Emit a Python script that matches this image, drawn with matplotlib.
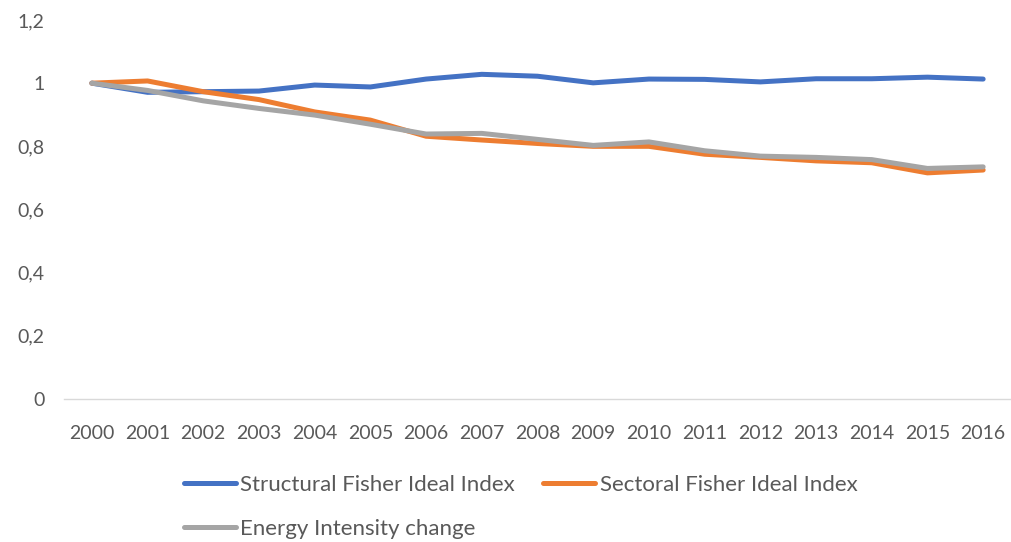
import matplotlib.pyplot as plt
from matplotlib.ticker import FuncFormatter

years = [str(y) for y in range(2000, 2017)]
structural = [1.000, 0.971, 0.973, 0.975, 0.994, 0.988, 1.013, 1.028, 1.022,
              1.001, 1.013, 1.012, 1.004, 1.014, 1.014, 1.019, 1.013]
sectoral = [1.000, 1.007, 0.973, 0.948, 0.909, 0.883, 0.832, 0.820, 0.809,
            0.800, 0.800, 0.775, 0.765, 0.754, 0.748, 0.716, 0.725]
intensity = [1.000, 0.977, 0.944, 0.920, 0.899, 0.870, 0.839, 0.841, 0.822,
             0.803, 0.814, 0.786, 0.769, 0.765, 0.758, 0.730, 0.735]

plt.rcParams['font.family'] = ['Lato', 'DejaVu Sans']

fig = plt.figure(figsize=(10.11, 5.42), dpi=100)
ax = fig.add_axes([64 / 1011, 1 - 399 / 542, 947 / 1011, 379 / 542])

x = range(len(years))
style = dict(lw=3.6, solid_capstyle='round', solid_joinstyle='round')
l1, = ax.plot(x, structural, color='#4472C4', label='Structural Fisher Ideal Index', **style)
l2, = ax.plot(x, sectoral, color='#ED7D31', label='Sectoral Fisher Ideal Index', **style)
l3, = ax.plot(x, intensity, color='#A5A5A5', label='Energy Intensity change', **style)

ax.set_xlim(-0.5, len(years) - 0.5)
ax.set_ylim(0, 1.2)
ax.set_yticks([0, 0.2, 0.4, 0.6, 0.8, 1.0, 1.2])
ax.yaxis.set_major_formatter(FuncFormatter(lambda v, p: f'{v:g}'.replace('.', ',')))
ax.set_xticks(list(x))
ax.set_xticklabels(years)

for s in ['top', 'right', 'left']:
    ax.spines[s].set_visible(False)
ax.spines['bottom'].set_color('#D9D9D9')
ax.spines['bottom'].set_linewidth(1.0)
ax.tick_params(axis='both', length=0, labelsize=14, colors='#595959')
ax.tick_params(axis='y', pad=14)
ax.tick_params(axis='x', pad=19)

# row-wise order: legend fills columns first
fig.legend([l1, l3, l2], [l1.get_label(), l3.get_label(), l2.get_label()],
           loc='upper left', bbox_to_anchor=(177 / 1011, 1 - 468 / 542), ncol=2,
           frameon=False, fontsize=16, handlelength=2.35, handletextpad=0.2,
           columnspacing=1.25, labelspacing=1.1, labelcolor='#595959',
           borderaxespad=0, borderpad=0.3)

fig.savefig('out.png', dpi=100)
